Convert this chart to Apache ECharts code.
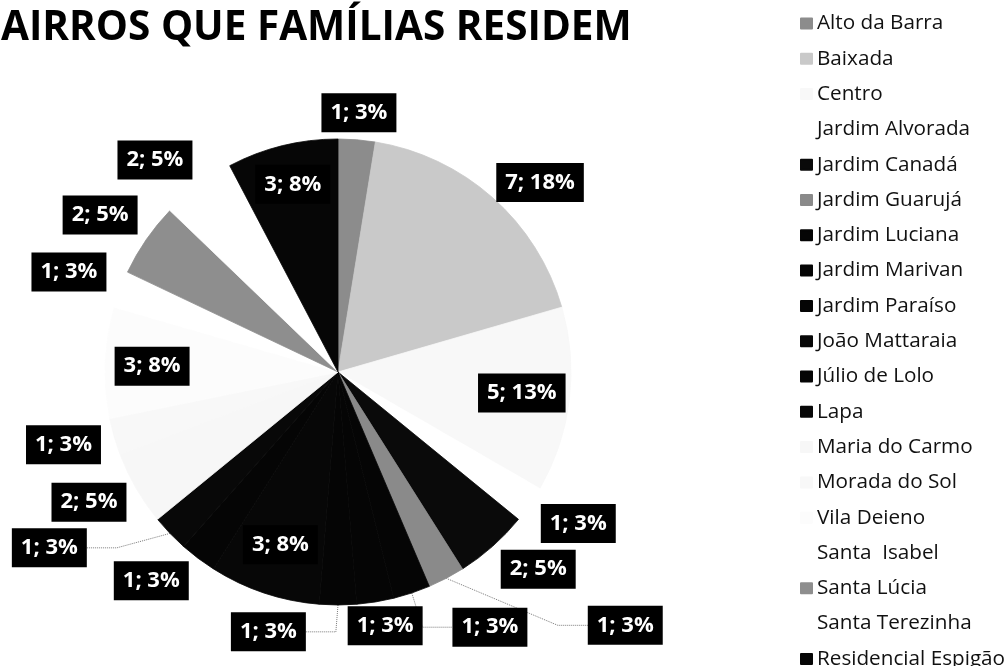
<!DOCTYPE html>
<html>
<head>
<meta charset="utf-8">
<script src="https://cdn.jsdelivr.net/npm/echarts@6/dist/echarts.min.js"></script>
<style>
  html, body { margin: 0; padding: 0; background: #ffffff; }
  #chart { width: 1007px; height: 666px; }
</style>
</head>
<body>
<div id="chart"></div>
<script>
// ---- data ----
const titleText = 'AIRROS QUE FAMÍLIAS RESIDEM';
const categories = [
  'Alto da Barra', 'Baixada', 'Centro', 'Jardim Alvorada', 'Jardim Canadá',
  'Jardim Guarujá', 'Jardim Luciana', 'Jardim Marivan', 'Jardim Paraíso',
  'João Mattaraia', 'Júlio de Lolo', 'Lapa', 'Maria do Carmo', 'Morada do Sol',
  'Vila Deieno', 'Santa  Isabel', 'Santa Lúcia', 'Santa Terezinha', 'Residencial Espigão'
];
const families = [1, 7, 5, 1, 2, 1, 1, 1, 1, 3, 1, 1, 2, 1, 3, 1, 2, 2, 3];

// ---- styles (not data) ----
const sliceColors = [
  '#8c8c8c', '#c9c9c9', '#f8f8f8', '#ffffff', '#0a0a0a',
  '#8a8a8a', '#050505', '#050505', '#050505',
  '#070707', '#050505', '#080808', '#f7f7f7', '#f8f8f8',
  '#fcfcfc', '#ffffff', '#8e8e8e', '#ffffff', '#060606'
];
// label placement: distance from centre (px) and angular shift from slice middle (deg)
const labelRadius = [260, 277, 185, 284, 281, 383, 297, 258, 269, 182, 280, 338, 281, 284, 186, 287, 285, 280, 193];
const labelShift  = [0, 5.3, -0.4, -2.4, -3.9, -20.9, -12.3, -1.3, 15, 0, 4.9, 12.5, 2.4, 1.3, -0.5, -0.4, -1.2, -3.9, 0.3];
const withLeader  = [5, 6, 8, 11];

const CX = 338, CY = 372, R = 233;
const total = families.reduce((a, b) => a + b, 0);
const midAngles = [];
{
  let acc = 0;
  families.forEach(v => { midAngles.push((acc + v / 2) / total * 360); acc += v; });
}

const seriesData = categories.map((name, i) => ({
  name: name,
  value: families[i],
  itemStyle: { color: sliceColors[i], borderColor: sliceColors[i], borderWidth: 0.8 },
  labelLine: { show: withLeader.indexOf(i) >= 0 }
}));

const chart = echarts.init(document.getElementById('chart'), null, { renderer: 'canvas' });
chart.setOption({
  backgroundColor: '#ffffff',
  animation: false,
  title: {
    text: titleText,
    left: 1,
    top: 3,
    padding: 0,
    textStyle: { fontFamily: 'Open Sans', fontWeight: 'bold', fontSize: 40.5, color: '#000000', lineHeight: 50 }
  },
  legend: {
    orient: 'vertical',
    left: 800,
    top: 13,
    height: 660,
    padding: 0,
    itemWidth: 11,
    itemHeight: 10,
    itemGap: 14.3,
    icon: 'rect',
    data: categories,
    textStyle: { fontFamily: 'Open Sans', fontSize: 20.7, color: '#111111' }
  },
  series: [{
    type: 'pie',
    center: [CX, CY],
    radius: R,
    startAngle: 90,
    clockwise: true,
    avoidLabelOverlap: false,
    minShowLabelAngle: 0,
    emphasis: { disabled: true },
    label: {
      show: true,
      position: 'outside',
      formatter: p => p.value + '; ' + Math.round(p.percent) + '%',
      fontFamily: 'Open Sans',
      fontWeight: 'bold',
      fontSize: 22,
      lineHeight: 27,
      color: '#ffffff',
      backgroundColor: '#000000',
      padding: [6, 9]
    },
    labelLine: {
      show: false,
      lineStyle: { color: '#7a7a7a', width: 1, type: 'dotted' }
    },
    labelLayout: function (params) {
      const i = params.dataIndex;
      const a = (midAngles[i] + labelShift[i]) * Math.PI / 180;
      return {
        x: CX + labelRadius[i] * Math.sin(a),
        y: CY - labelRadius[i] * Math.cos(a),
        align: 'center',
        verticalAlign: 'middle'
      };
    },
    data: seriesData
  }]
});
</script>
</body>
</html>
